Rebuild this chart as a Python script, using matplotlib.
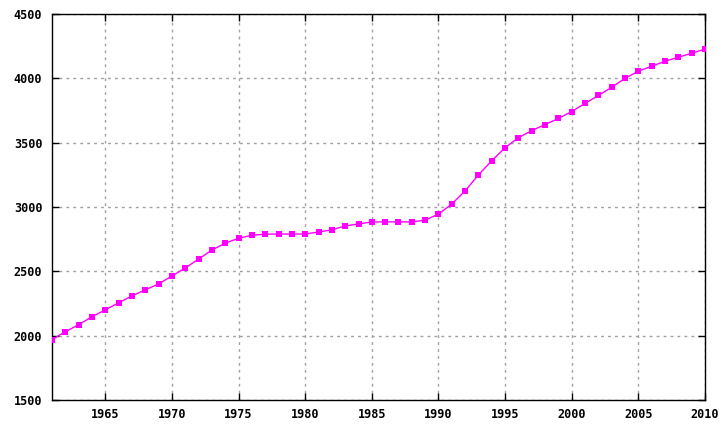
import matplotlib
matplotlib.use("Agg")
import matplotlib.pyplot as plt

years = list(range(1961, 2011))
values = [1969, 2031, 2085, 2147, 2201, 2255, 2309, 2356, 2402, 2464,
          2526, 2595, 2665, 2719, 2757, 2780, 2789, 2790, 2790, 2790,
          2806, 2822, 2853, 2868, 2884, 2884, 2884, 2884, 2898, 2945,
          3023, 3125, 3250, 3359, 3461, 3539, 3594, 3641, 3688, 3742,
          3805, 3867, 3930, 4000, 4055, 4094, 4133, 4164, 4195, 4227]
xticks = [1965, 1970, 1975, 1980, 1985, 1990, 1995, 2000, 2005, 2010]
yticks = [1500, 2000, 2500, 3000, 3500, 4000, 4500]

fig = plt.figure(figsize=(7.25, 4.26), dpi=100)
ax = fig.add_axes([52/725, 26/426, 653/725, 386/426])
ax.plot(years, values, color="#ff00ff", linewidth=1, marker="s",
        markersize=4.5, markeredgewidth=0, zorder=3)
ax.set_xlim(1961, 2010)
ax.set_ylim(1500, 4500)
ax.set_xticks(xticks)
ax.set_yticks(yticks)
ax.grid(True, color="#a0a0a0", linestyle=(0, (2, 3)), linewidth=1)
ax.tick_params(direction="in", length=5, width=1, top=True, right=True,
               labelsize=8.5)
ax.tick_params(axis="x", pad=6)
ax.tick_params(axis="y", pad=7)
for lab in ax.get_xticklabels() + ax.get_yticklabels():
    lab.set_fontfamily("DejaVu Sans Mono")
    lab.set_fontweight("bold")
for s in ax.spines.values():
    s.set_linewidth(1)
fig.savefig("out.png", dpi=100)
